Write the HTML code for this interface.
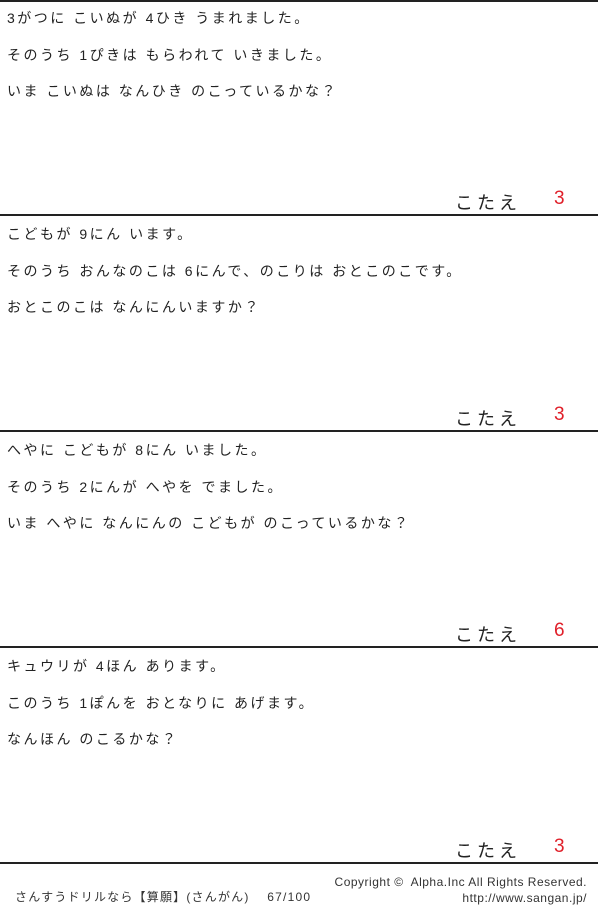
<!DOCTYPE html>
<html><head><meta charset="utf-8"><style>
body{margin:0;width:600px;height:908px;background:#fff;position:relative;overflow:hidden;font-family:"Liberation Sans","Noto Sans CJK JP",sans-serif;color:#222}
.t{position:absolute;left:7px;font-size:14px;line-height:16px;white-space:nowrap;letter-spacing:2.5px}
.l{position:absolute;left:0;width:598px;height:2px;background:#222}
.k{position:absolute;left:455px;font-size:18px;line-height:20px;letter-spacing:4px;color:#222}
.a{position:absolute;left:554px;font-size:19px;line-height:20px;color:#e0202a}
.f{position:absolute;font-size:12px;line-height:14px;white-space:nowrap;color:#333}
</style></head><body>
<div class="l" style="top:0"></div>
<div class="t" style="top:10px">3がつに こいぬが 4ひき うまれました。</div>
<div class="t" style="top:47px">そのうち 1ぴきは もらわれて いきました。</div>
<div class="t" style="top:83px">いま こいぬは なんひき のこっているかな？</div>
<div class="k" style="top:193px">こたえ</div><div class="a" style="top:189px">3</div>
<div class="l" style="top:214px"></div>
<div class="t" style="top:226px">こどもが 9にん います。</div>
<div class="t" style="top:263px">そのうち おんなのこは 6にんで、のこりは おとこのこです。</div>
<div class="t" style="top:299px">おとこのこは なんにんいますか？</div>
<div class="k" style="top:409px">こたえ</div><div class="a" style="top:405px">3</div>
<div class="l" style="top:430px"></div>
<div class="t" style="top:442px">へやに こどもが 8にん いました。</div>
<div class="t" style="top:479px">そのうち 2にんが へやを でました。</div>
<div class="t" style="top:515px">いま へやに なんにんの こどもが のこっているかな？</div>
<div class="k" style="top:625px">こたえ</div><div class="a" style="top:621px">6</div>
<div class="l" style="top:646px"></div>
<div class="t" style="top:658px">キュウリが 4ほん あります。</div>
<div class="t" style="top:695px">このうち 1ぽんを おとなりに あげます。</div>
<div class="t" style="top:731px">なんほん のこるかな？</div>
<div class="k" style="top:841px">こたえ</div><div class="a" style="top:837px">3</div>
<div class="l" style="top:862px"></div>
<div class="f" style="left:15px;top:890px;letter-spacing:1.2px">さんすうドリルなら【算願】(さんがん)　 67/100</div>
<div class="f" style="right:13px;top:875px;letter-spacing:0.5px">Copyright ©&nbsp; Alpha.Inc All Rights Reserved.</div>
<div class="f" style="right:13px;top:891px;letter-spacing:0.5px">http://www.sangan.jp/</div>
</body></html>
